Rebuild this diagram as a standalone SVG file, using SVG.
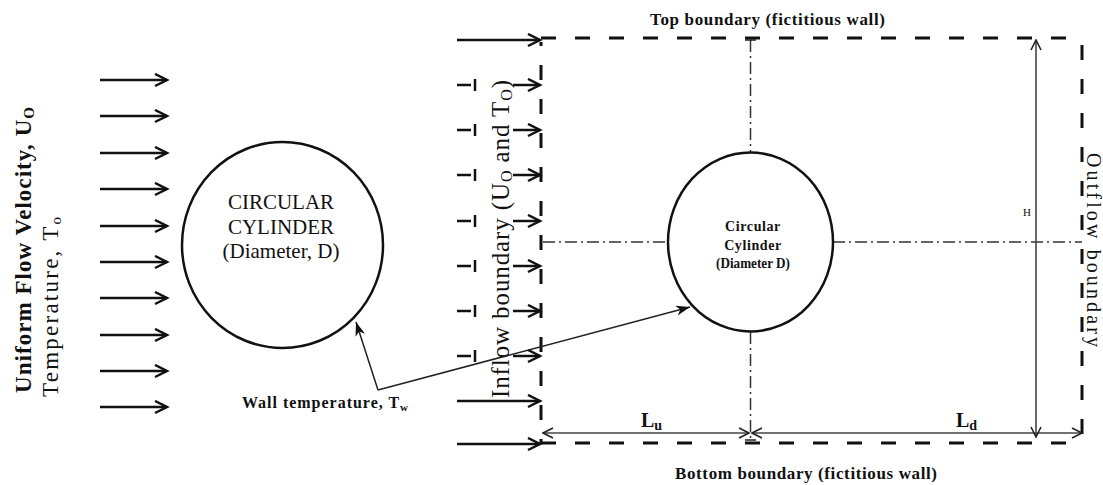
<svg xmlns="http://www.w3.org/2000/svg" width="1103" height="485" viewBox="0 0 1103 485">
<style>
  text { font-family: "Liberation Serif", "Times New Roman", serif; fill: #111; }
  .b { font-weight: bold; }
  .flow { stroke: #111; stroke-width: 2.5; fill: none; }
  .bnd { stroke: #111; stroke-width: 3; fill: none; stroke-dasharray: 15 19; }
  .cl { stroke: #333; stroke-width: 1.5; fill: none; stroke-dasharray: 12 4 2 4; }
  .dim { stroke: #444; stroke-width: 1.6; fill: none; }
  .ptr { stroke: #222; stroke-width: 1.5; fill: none; }
  .cyl { stroke: #111; stroke-width: 2.5; fill: none; }
</style>
<defs>
  <marker id="arr" markerUnits="userSpaceOnUse" markerWidth="16" markerHeight="16" refX="13" refY="7" orient="auto">
    <path d="M1,1 L13,7 L1,13" fill="none" stroke="#111" stroke-width="2.5"/>
  </marker>
  <marker id="dimE" markerUnits="userSpaceOnUse" markerWidth="14" markerHeight="14" refX="11" refY="6" orient="auto">
    <path d="M1,1 L11,6 L1,11" fill="none" stroke="#222" stroke-width="1.6"/>
  </marker>
  <marker id="dimS" markerUnits="userSpaceOnUse" markerWidth="14" markerHeight="14" refX="1" refY="6" orient="auto">
    <path d="M11,1 L1,6 L11,11" fill="none" stroke="#222" stroke-width="1.6"/>
  </marker>
  <marker id="tri" markerUnits="userSpaceOnUse" markerWidth="16" markerHeight="12" refX="14" refY="5" orient="auto">
    <path d="M0,0 L14,5 L0,10 L4,5 Z" fill="#111"/>
  </marker>
</defs>

<g id="left-labels">
  <text class="b" font-size="23" transform="translate(31,393) rotate(-90)" textLength="286" lengthAdjust="spacing">Uniform Flow Velocity, U<tspan font-size="15" dy="3">O</tspan></text>
  <text font-size="23" transform="translate(58,397) rotate(-90)" textLength="180" lengthAdjust="spacing">Temperature, T<tspan font-size="15" dy="3">o</tspan></text>
</g>

<g id="uniform-flow-arrows">
  <line class="flow" x1="100" y1="80" x2="167" y2="80" marker-end="url(#arr)"/>
  <line class="flow" x1="100" y1="116" x2="167" y2="116" marker-end="url(#arr)"/>
  <line class="flow" x1="100" y1="153" x2="167" y2="153" marker-end="url(#arr)"/>
  <line class="flow" x1="100" y1="189" x2="167" y2="189" marker-end="url(#arr)"/>
  <line class="flow" x1="100" y1="226" x2="167" y2="226" marker-end="url(#arr)"/>
  <line class="flow" x1="100" y1="262" x2="167" y2="262" marker-end="url(#arr)"/>
  <line class="flow" x1="100" y1="298" x2="167" y2="298" marker-end="url(#arr)"/>
  <line class="flow" x1="100" y1="335" x2="167" y2="335" marker-end="url(#arr)"/>
  <line class="flow" x1="100" y1="371" x2="167" y2="371" marker-end="url(#arr)"/>
  <line class="flow" x1="100" y1="407" x2="167" y2="407" marker-end="url(#arr)"/>
</g>

<g id="cylinder-left">
  <ellipse class="cyl" cx="282.5" cy="245" rx="100.5" ry="103"/>
  <text font-size="21" text-anchor="middle" x="281" y="209">CIRCULAR</text>
  <text font-size="21" text-anchor="middle" x="281" y="234">CYLINDER</text>
  <text font-size="21" text-anchor="middle" x="281" y="258">(Diameter, D)</text>
</g>

<g id="wall-temperature">
  <text class="b" font-size="16" x="242" y="408" textLength="166" lengthAdjust="spacing">Wall temperature, T<tspan font-size="11" dy="3">w</tspan></text>
</g>

<g id="domain-boundaries">
  <line class="bnd" x1="541" y1="38" x2="1082" y2="38"/>
  <line class="bnd" x1="541" y1="443" x2="1082" y2="443"/>
  <line class="bnd" x1="541" y1="42" x2="541" y2="443" stroke-dasharray="14 23" stroke-dashoffset="-23"/>
  <line class="bnd" x1="1082" y1="45" x2="1082" y2="440" stroke-dasharray="14 23"/>
  <text class="b" font-size="17" x="650" y="25" textLength="235" lengthAdjust="spacing">Top boundary (fictitious wall)</text>
  <text class="b" font-size="17" x="675" y="479" textLength="262" lengthAdjust="spacing">Bottom boundary (fictitious wall)</text>
  <text font-size="20" transform="translate(1087,153) rotate(90)" textLength="194" lengthAdjust="spacing">Outflow boundary</text>
</g>

<g id="inflow-boundary">
  <line class="flow" x1="457" y1="40" x2="540" y2="40" marker-end="url(#arr)"/>
  <line class="flow" x1="457" y1="401" x2="540" y2="401" marker-end="url(#arr)"/>
  <line class="flow" x1="457" y1="444" x2="540" y2="444" marker-end="url(#arr)"/>
  <g class="flow">
    <path d="M457,85 H471 M475,79 V91"/>
    <path d="M457,130 H471 M475,124 V136"/>
    <path d="M457,175 H471 M475,169 V181"/>
    <path d="M457,221 H471 M475,215 V227"/>
    <path d="M457,266 H471 M475,260 V272"/>
    <path d="M457,311 H471 M475,305 V317"/>
    <path d="M457,356 H471 M475,350 V362"/>
  </g>
  <line class="flow" x1="513" y1="85" x2="540" y2="85" marker-end="url(#arr)"/>
  <line class="flow" x1="513" y1="130" x2="540" y2="130" marker-end="url(#arr)"/>
  <line class="flow" x1="513" y1="175" x2="540" y2="175" marker-end="url(#arr)"/>
  <line class="flow" x1="513" y1="221" x2="540" y2="221" marker-end="url(#arr)"/>
  <line class="flow" x1="513" y1="266" x2="540" y2="266" marker-end="url(#arr)"/>
  <line class="flow" x1="513" y1="311" x2="540" y2="311" marker-end="url(#arr)"/>
  <line class="flow" x1="513" y1="356" x2="540" y2="356" marker-end="url(#arr)"/>
  <text font-size="25" transform="translate(509,398) rotate(-90)" textLength="318" lengthAdjust="spacing">Inflow boundary (U<tspan font-size="16" dy="3">O</tspan><tspan dy="-3"> and T</tspan><tspan font-size="16" dy="3">O</tspan><tspan dy="-3">)</tspan></text>
</g>

<g id="centerlines">
  <line class="cl" x1="543" y1="242" x2="668" y2="242"/>
  <line class="cl" x1="833" y1="242" x2="1082" y2="242"/>
  <line class="cl" x1="750.5" y1="40" x2="750.5" y2="153"/>
  <line class="cl" x1="750.5" y1="332" x2="750.5" y2="441"/>
  <path d="M745,40 H756 M745,440 H756" stroke="#222" stroke-width="1.5"/>
</g>

<g id="cylinder-right">
  <ellipse class="cyl" cx="750.5" cy="242" rx="82.5" ry="89.5"/>
  <text class="b" font-size="14" text-anchor="middle" x="753" y="231" letter-spacing="0.6">Circular</text>
  <text class="b" font-size="14" text-anchor="middle" x="753" y="250" letter-spacing="0.6">Cylinder</text>
  <text class="b" font-size="14" text-anchor="middle" x="753" y="268" textLength="74" lengthAdjust="spacingAndGlyphs">(Diameter D)</text>
</g>

<g id="connectors">
  <path class="ptr" d="M378,390 L356,322" marker-end="url(#tri)"/>
  <path class="ptr" d="M378,390 L690,307" marker-end="url(#tri)"/>
  <line class="dim" x1="543" y1="433" x2="749" y2="433" marker-start="url(#dimS)" marker-end="url(#dimE)"/>
  <line class="dim" x1="752" y1="433" x2="1082" y2="433" marker-start="url(#dimS)" marker-end="url(#dimE)"/>
  <line class="dim" x1="1036" y1="40" x2="1036" y2="437" marker-start="url(#dimS)" marker-end="url(#dimE)"/>
</g>

<g id="dimension-labels">
  <text class="b" font-size="20" x="641" y="427">L<tspan font-size="14" dy="3">u</tspan></text>
  <text class="b" font-size="20" x="956" y="427">L<tspan font-size="14" dy="3">d</tspan></text>
  <text font-size="11" x="1023" y="216">H</text>
</g>
</svg>
